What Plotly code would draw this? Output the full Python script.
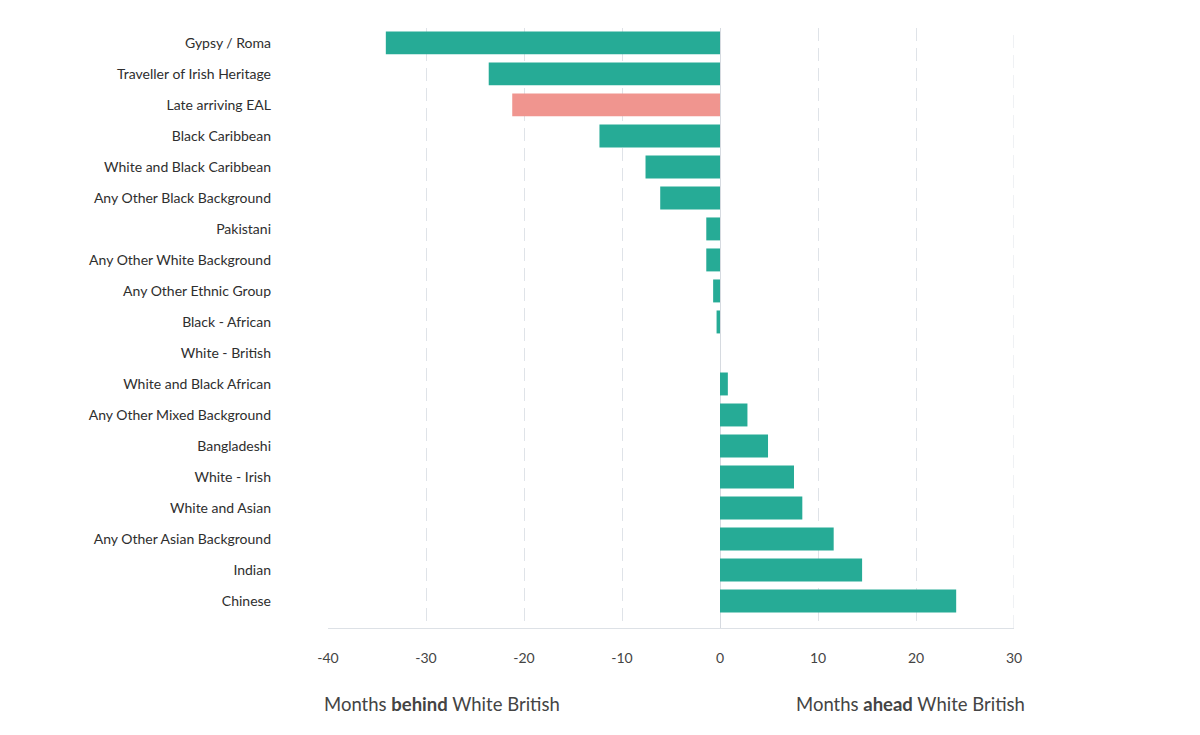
import plotly.graph_objects as go

categories = [
    "Gypsy / Roma", "Traveller of Irish Heritage", "Late arriving EAL", "Black Caribbean",
    "White and Black Caribbean", "Any Other Black Background", "Pakistani",
    "Any Other White Background", "Any Other Ethnic Group", "Black - African",
    "White - British", "White and Black African", "Any Other Mixed Background",
    "Bangladeshi", "White - Irish", "White and Asian", "Any Other Asian Background",
    "Indian", "Chinese",
]
months = [-34.1, -23.6, -21.2, -12.3, -7.6, -6.1, -1.4, -1.4, -0.7, -0.35,
          0.0, 0.8, 2.8, 4.9, 7.55, 8.4, 11.6, 14.5, 24.1]
highlight = "Late arriving EAL"
x_ticks = [-40, -30, -20, -10, 0, 10, 20, 30]
x_tick_labels = ["-40", "-30", "-20", "-10", "0", "10", "20", "30"]

TEAL = "#26ab96"
PINK = "#f0958f"
colors = [PINK if c == highlight else TEAL for c in categories]

fig = go.Figure(go.Bar(
    x=months, y=categories, orientation="h",
    marker=dict(color=colors, line=dict(width=0)),
    hoverinfo="x+y",
))

FONT = "Lato, 'Open Sans', sans-serif"
fig.update_layout(
    width=1200, height=735,
    margin=dict(l=328, r=186, t=28, b=107),
    paper_bgcolor="white", plot_bgcolor="white",
    bargap=0.26,
    showlegend=False,
    font=dict(family=FONT, size=14, color="#333"),
    xaxis=dict(
        range=[-40, 30], tickvals=x_ticks, ticktext=x_tick_labels,
        showgrid=True, gridcolor="#dfe3e8", griddash="13px,7px", gridwidth=1,
        zeroline=True, zerolinecolor="#d6dae0", zerolinewidth=1,
        showline=True, linecolor="#dde1e6", linewidth=1,
        ticks="", ticklabelstandoff=17,
        tickfont=dict(family=FONT, size=14, color="#444"),
        fixedrange=True,
    ),
    yaxis=dict(
        type="category", categoryorder="array", categoryarray=categories,
        range=[18.87, -0.48],
        showgrid=False, zeroline=False, showline=False,
        ticks="", ticklabelstandoff=56,
        tickfont=dict(family=FONT, size=14, color="#2e2e2e"),
        fixedrange=True,
    ),
    shapes=[
        dict(type="line", xref="x", yref="paper", x0=x_ticks[-1], x1=x_ticks[-1],
             y0=0, y1=1, line=dict(color="#dfe3e8", width=1, dash="13px,7px"),
             layer="below"),
    ],
    annotations=[
        dict(text="Months <b>behind</b> White British", xref="paper", yref="paper",
             x=0, y=0, xanchor="left", yanchor="middle", xshift=-6, yshift=-76,
             showarrow=False, font=dict(family=FONT, size=18.5, color="#444")),
        dict(text="Months <b>ahead</b> White British", xref="paper", yref="paper",
             x=1, y=0, xanchor="right", yanchor="middle", xshift=13, yshift=-76,
             showarrow=False, font=dict(family=FONT, size=18.5, color="#444")),
    ],
)

fig.write_html("out.html")
